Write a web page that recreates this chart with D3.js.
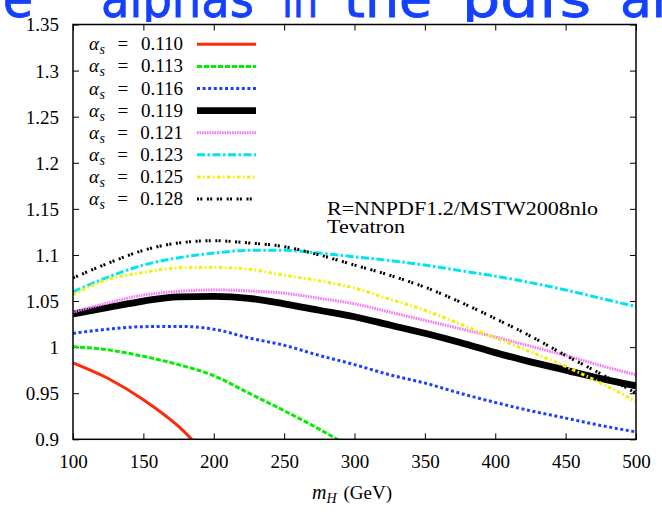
<!DOCTYPE html>
<html><head><meta charset="utf-8">
<script src="https://cdn.jsdelivr.net/npm/d3@7"></script>
<style>
body{margin:0;background:#fff}
text{font-family:"Liberation Serif",serif;fill:#000}
</style>
</head><body>
<svg id="c" width="662" height="513"></svg>
<script>
// ---- data ----
const mH      = [100,125,150,175,200,225,250,275,300,325,350,375,400,425,450,475,500];
const mHRed   = [100,125,150,175,200];
const a0110   = [0.983,0.966,0.943,0.914,0.874];
const a0113   = [1.0005,0.997,0.990,0.981,0.969,0.950,0.931,0.911,0.889];
const a0116   = [1.015,1.0195,1.0222,1.0225,1.0195,1.0100,1.002,0.991,0.981,0.970,0.961,0.950,0.940,0.931,0.923,0.915,0.908];
const a0119   = [1.036,1.043,1.050,1.0545,1.055,1.053,1.047,1.040,1.033,1.024,1.015,1.005,0.994,0.984,0.975,0.966,0.958];
const a0121   = [1.038,1.048,1.0565,1.0605,1.062,1.061,1.0585,1.053,1.047,1.038,1.029,1.020,1.011,1.001,0.991,0.980,0.970];
const a0123   = [1.060,1.076,1.089,1.097,1.102,1.105,1.105,1.102,1.098,1.094,1.089,1.083,1.077,1.070,1.062,1.053,1.044];
const a0125   = [1.057,1.0735,1.081,1.086,1.0865,1.0845,1.078,1.072,1.064,1.052,1.040,1.025,1.010,0.995,0.979,0.961,0.941];
const a0128   = [1.075,1.091,1.105,1.113,1.1155,1.113,1.109,1.100,1.089,1.078,1.065,1.049,1.031,1.012,0.991,0.971,0.950];
const seriesNames = ["0.110","0.113","0.116","0.119","0.121","0.123","0.125","0.128"];
const xTicks = [100,150,200,250,300,350,400,450,500];
const xTickLabels = ["100","150","200","250","300","350","400","450","500"];
const yTicks = [0.9,0.95,1,1.05,1.1,1.15,1.2,1.25,1.3,1.35];
const yTickLabels = ["0.9","0.95","1","1.05","1.1","1.15","1.2","1.25","1.3","1.35"];
const annotation = ["R=NNPDF1.2/MSTW2008nlo","Tevatron"];
const titleWords = ["the","alphas","in","the","pdfs","and"];

// ---- styles ----
const styles = [
  {c:"#ff2a0a", w:3,   d:null},
  {c:"#00f000", w:3,   d:"5,2"},
  {c:"#1f3fff", w:3,   d:"3,2.6"},
  {c:"#000000", w:6.8, d:null},
  {c:"#f27af2", w:3,   d:"1.6,0.9"},
  {c:"#00e4f0", w:3,   d:"8,2.5,2.5,2.5"},
  {c:"#f2f200", w:3,   d:"3.5,2.5,1.5,2.5"},
  {c:"#000000", w:3,   d:"2,1.3,2,4.6"}
];
const seriesData = [
  [mHRed,a0110],[mH,a0113],[mH,a0116],[mH,a0119],[mH,a0121],[mH,a0123],[mH,a0125],[mH,a0128]
].map(([xs,ys])=>ys.map((v,i)=>({x:xs[i],y:v})));

const svg = d3.select("#c");
const L=73, R=636, T=24.5, B=439.3;
const x = d3.scaleLinear().domain([100,500]).range([L,R]);
const y = d3.scaleLinear().domain([0.9,1.35]).range([B,T]);
const SERIF = "'Liberation Serif',serif";
const defs = svg.append("defs");

// title (slide heading, cropped at the top of the picture)
defs.append("clipPath").attr("id","tc").append("rect").attr("x",0).attr("y",0).attr("width",662).attr("height",22);
const tg = svg.append("g").attr("clip-path","url(#tc)");
const tpos = [[-48,33],[101,254],[282,318],[344,432],[462,591],[620,null]];
titleWords.forEach((w,i)=>{
  const t = tg.append("text").attr("x",tpos[i][0]).attr("y",17)
    .style("font-family","'DejaVu Sans',sans-serif")
    .style("font-size","52px").style("fill","#1440ff")
    .attr("stroke","#1440ff").attr("stroke-width",0.8).text(w);
  if(tpos[i][1]!==null) t.attr("textLength",tpos[i][1]-tpos[i][0]).attr("lengthAdjust","spacingAndGlyphs");
});

defs.append("clipPath").attr("id","pc")
  .append("rect").attr("x",L).attr("y",T).attr("width",R-L).attr("height",B-T);

// axes
const fs="19px";
const gx = svg.append("g").attr("transform",`translate(0,${B})`)
  .call(d3.axisBottom(x).tickValues(xTicks).tickFormat((d,i)=>xTickLabels[i]).tickSizeInner(-6).tickSizeOuter(0).tickPadding(15));
const gxt = svg.append("g").attr("transform",`translate(0,${T})`)
  .call(d3.axisTop(x).tickValues(xTicks).tickFormat("").tickSizeInner(-6).tickSizeOuter(0));
const gy = svg.append("g").attr("transform",`translate(${L},0)`)
  .call(d3.axisLeft(y).tickValues(yTicks).tickFormat((d,i)=>yTickLabels[i]).tickSizeInner(-6).tickSizeOuter(0).tickPadding(14));
const gyr = svg.append("g").attr("transform",`translate(${R},0)`)
  .call(d3.axisRight(y).tickValues(yTicks).tickFormat("").tickSizeInner(-6).tickSizeOuter(0));
[gx,gxt,gy,gyr].forEach(g=>{
  g.attr("font-family",null);
  g.select(".domain").remove();
  g.selectAll(".tick line").attr("stroke","#000").attr("stroke-width",1);
  g.selectAll("text").style("font-family",SERIF).style("font-size",fs).attr("fill","#000");
});
gy.selectAll("text").attr("dy","0.34em");

// curves
const line = d3.line().x(d=>x(d.x)).y(d=>y(d.y)).curve(d3.curveMonotoneX);
const cg = svg.append("g").attr("clip-path","url(#pc)");
seriesData.forEach((s,i)=>{
  cg.append("path").datum(s).attr("d",line).attr("fill","none")
    .attr("stroke",styles[i].c).attr("stroke-width",styles[i].w)
    .attr("stroke-dasharray",styles[i].d).attr("stroke-linejoin","round");
});

// frame
svg.append("rect").attr("x",L).attr("y",T).attr("width",R-L).attr("height",B-T)
  .attr("fill","none").attr("stroke","#000").attr("stroke-width",1.5);

// legend
seriesNames.forEach((n,i)=>{
  const cy = 44.3 + i*22.1;
  const t = svg.append("text").attr("x",183).attr("y",cy+6).attr("text-anchor","end")
    .style("font-family",SERIF).style("font-size",fs);
  t.append("tspan").style("font-style","italic").text("α");
  t.append("tspan").style("font-style","italic").style("font-size","14px").attr("dy",4).attr("dx",0.5).text("s");
  const eq = t.append("tspan").attr("dy",-4).attr("dx",5).text("=");
  const num = t.append("tspan").attr("dx",5).text(n);
  const w = t.node().getBBox().width;
  const extra = Math.max(0,(94 - w))/2;
  eq.attr("dx",5+extra);
  num.attr("dx",5+extra);
  svg.append("line").attr("x1",197).attr("x2",256).attr("y1",cy).attr("y2",cy)
    .attr("stroke",styles[i].c).attr("stroke-width",styles[i].w).attr("stroke-dasharray",styles[i].d);
});

// annotation
annotation.forEach((a,i)=>{
  const t = svg.append("text").attr("x",327).attr("y",215+i*18.3)
    .style("font-family",SERIF).style("font-size",fs).text(a);
  t.attr("textLength",i===0?271:78).attr("lengthAdjust","spacingAndGlyphs");
});

// x axis title
const xt = svg.append("text").attr("x",352).attr("y",499).attr("text-anchor","middle")
  .style("font-family",SERIF).style("font-size",fs);
xt.append("tspan").style("font-style","italic").style("font-size","20px").text("m");
xt.append("tspan").style("font-style","italic").style("font-size","14px").attr("dy",4).text("H");
xt.append("tspan").attr("dy",-4).attr("dx",7).text("(GeV)");
</script>
</body></html>
